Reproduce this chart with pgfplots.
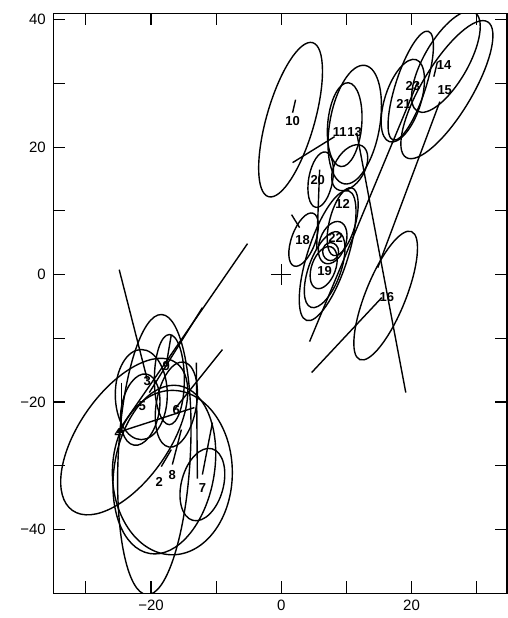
\documentclass[border=0pt]{standalone}
\usepackage{pgfplots}
\pgfplotsset{compat=1.18}
\usepackage{fontspec}
\setmainfont{Liberation Sans}
% ellipse: centre x, centre y, semi-axis a, semi-axis b, angle (deg)
\newcommand{\Ell}[5]{\draw[black,line width=1.4pt,rotate around={#5:(axis cs:#1,#2)}] (axis cs:#1,#2) ellipse [x radius=#3, y radius=#4];}
\newcommand{\Lab}[3]{\node[font=\fontsize{13}{14}\selectfont\bfseries,inner sep=0pt] at (axis cs:#1,#2) {#3};}
\pgfplotsset{vec/.style={black,solid,mark=none,line width=1.4pt}}
\begin{document}
\begin{tikzpicture}
\begin{axis}[
  scale only axis, width=453.7pt, height=580pt,
  xmin=-35, xmax=34.66, ymin=-50, ymax=41,
  xtick={-20,0,20}, xticklabels={−20,0,20},
  minor xtick={-30,-10,10,30},
  ytick={-40,-20,0,20,40}, yticklabels={−40,−20,0,20,40},
  minor ytick={-30,-10,10,30},
  major tick length=12pt, minor tick length=12pt,
  tick style={black, line width=1.2pt},
  axis line style={line width=1.4pt},
  tick label style={font=\fontsize{15}{17}\selectfont},
  xticklabel style={yshift=-3pt},
  yticklabel style={xshift=-4pt},
]
% ---------- upper-right group: ellipses ----------
\Ell{1.43}{24.31}{12.3}{3.76}{74}
\Ell{11.28}{23.53}{9.23}{3.92}{80}
\Ell{9.74}{23.53}{6.46}{2.67}{85}
\Ell{6.05}{14.90}{4.31}{1.88}{80}
\Ell{10.51}{16.78}{3.85}{2.35}{60}
\Ell{9.43}{8.31}{5.38}{2.04}{75}
\Ell{3.43}{5.49}{4.31}{1.88}{70}
\Ell{7.89}{5.02}{3.38}{2.04}{70}
\Ell{7.58}{3.61}{1.38}{1.25}{90}
\Ell{6.51}{1.10}{3.38}{1.88}{70}
\Ell{6.66}{0.78}{6.15}{2.51}{70}
\Ell{7.12}{2.98}{10.46}{3.14}{72}
\Ell{16.03}{-3.29}{10.6}{3.14}{68}
\Ell{18.66}{27.29}{6.62}{2.82}{72}
\Ell{19.88}{29.65}{8.77}{2.35}{72}
\Ell{25.28}{33.41}{8.77}{3.45}{60}
\Ell{25.43}{29.02}{12.15}{3.92}{59}
% ---------- lower-left group: ellipses ----------
\Ell{-24.11}{-25.41}{13.85}{7.06}{55}
\Ell{-19.49}{-28.24}{21.54}{5.65}{87}
\Ell{-16.72}{-31.06}{12.62}{9.41}{90}
\Ell{-17.95}{-30.59}{13.08}{7.84}{80}
\Ell{-12.11}{-32.94}{5.69}{3.29}{75}
\Ell{-21.65}{-21.18}{5.54}{2.98}{80}
\Ell{-16.11}{-20.39}{6.62}{3.14}{80}
\Ell{-21.49}{-18.82}{6.92}{4.08}{90}
\Ell{-17.18}{-16.47}{6.92}{2.35}{90}
% ---------- vectors ----------
\addplot[vec] coordinates {(2.2,27.45) (1.74,25.41)};
\addplot[vec] coordinates {(1.74,17.57) (8.2,21.65)};
\addplot[vec] coordinates {(11.58,22.27) (19.12,-18.51)};
\addplot[vec] coordinates {(4.66,-15.37) (15.43,-3.61)};
\addplot[vec] coordinates {(4.35,-10.51) (20.97,30.27)};
\addplot[vec] coordinates {(14.82,1.10) (24.35,27.14)};
\addplot[vec] coordinates {(1.58,9.41) (2.82,7.37)};
\addplot[vec] coordinates {(5.89,16.47) (5.43,3.92)};
\addplot[vec] coordinates {(23.43,31.06) (23.98,33.41)};
\addplot[vec] coordinates {(-24.88,0.78) (-20.57,-16.47)};
\addplot[vec] coordinates {(-12.11,-5.18) (-20.26,-18.51)};
\addplot[vec] coordinates {(-5.18,4.86) (-25.18,-24.78)};
\addplot[vec] coordinates {(-9.03,-11.76) (-16.42,-21.18)};
\addplot[vec] coordinates {(-25.18,-24.78) (-13.34,-20.86)};
\addplot[vec] coordinates {(-18.42,-30.12) (-16.88,-27.45)};
\addplot[vec] coordinates {(-16.72,-29.8) (-15.34,-24.31)};
\addplot[vec] coordinates {(-12.11,-31.37) (-10.57,-23.22)};
\addplot[vec] coordinates {(-13.03,-13.8) (-12.88,-32.0)};
\addplot[vec] coordinates {(-24.57,-16.94) (-24.57,-24.78)};
\addplot[vec] coordinates {(-17.65,-14.12) (-16.88,-9.41)};
% origin cross
\addplot[vec] coordinates {(-1.5,0) (1.5,0)};
\addplot[vec] coordinates {(0,-1.6) (0,1.6)};
% ---------- labels ----------
\Lab{1.74}{24.16}{10}
\Lab{8.97}{22.4}{11}
\Lab{11.28}{22.4}{13}
\Lab{5.6}{14.9}{20}
\Lab{9.43}{11.14}{12}
\Lab{3.28}{5.49}{18}
\Lab{8.35}{5.8}{22}
\Lab{6.66}{0.63}{19}
\Lab{16.2}{-3.45}{16}
\Lab{18.8}{26.8}{21}
\Lab{20.2}{29.6}{23}
\Lab{25.0}{32.9}{14}
\Lab{25.1}{29.0}{15}
\Lab{-20.57}{-16.63}{3}
\Lab{-17.65}{-14.27}{9}
\Lab{-21.34}{-20.55}{5}
\Lab{-16.11}{-21.18}{6}
\Lab{-25.03}{-24.78}{4}
\Lab{-18.72}{-32.47}{2}
\Lab{-16.72}{-31.37}{8}
\Lab{-12.11}{-33.41}{7}
\end{axis}
\pgfresetboundingbox
\useasboundingbox (-53.3pt,-24.7pt) rectangle (453.7pt,593.3pt);
\end{tikzpicture}
\end{document}
